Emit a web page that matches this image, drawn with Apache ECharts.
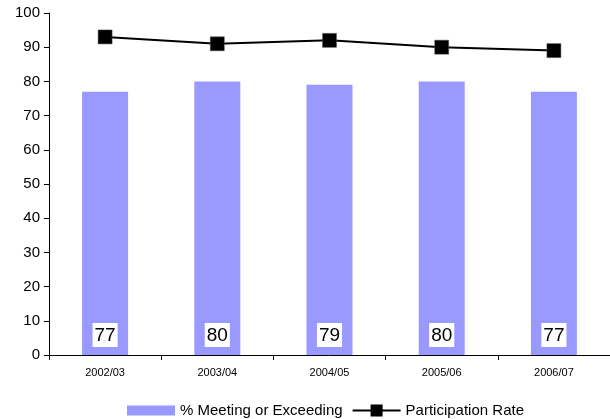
<!DOCTYPE html>
<html><head><meta charset="utf-8">
<script src="https://cdn.jsdelivr.net/npm/echarts@6/dist/echarts.min.js"></script>
<style>html,body{margin:0;padding:0;background:#fff}#c{width:610px;height:419px}</style>
</head><body><div id="c"></div>
<script>
const categories = ["2002/03","2003/04","2004/05","2005/06","2006/07"];
const meetingValues = [77, 80, 79, 80, 77];
const participationValues = [93, 91, 92, 90, 89];
const yTicks = [0,10,20,30,40,50,60,70,80,90,100];

const font = "Arial, 'Liberation Sans', sans-serif";
const chart = echarts.init(document.getElementById('c'), null, {renderer:'canvas'});
chart.setOption({
  animation:false,
  textStyle:{fontFamily:font},
  grid:{left:49, top:13, width:566, height:342, containLabel:false},
  legend:{
    top:398, left:122, itemWidth:48, itemHeight:12, itemGap:10,
    textStyle:{fontFamily:font, fontSize:15, color:'#000'},
    data:[
      {name:'% Meeting or Exceeding', icon:'path://M0,1 H48 V11 H0 Z'},
      {name:'Participation Rate', icon:'path://M0,5 H18 V0 H30 V5 H48 V7 H30 V12 H18 V7 H0 Z', itemStyle:{color:'#000', borderWidth:0}}
    ]
  },
  xAxis:{
    type:'category', data:categories, boundaryGap:true,
    axisLine:{lineStyle:{color:'#000', width:1}},
    axisTick:{show:true, length:5, lineStyle:{color:'#000'}},
    axisLabel:{fontFamily:font, fontSize:11, color:'#000', margin:12}
  },
  yAxis:{
    type:'value', min:0, max:100, interval:10,
    axisLine:{show:true, lineStyle:{color:'#000', width:1}},
    axisTick:{show:true, length:5, lineStyle:{color:'#000'}},
    splitLine:{show:false},
    axisLabel:{fontFamily:font, fontSize:15, color:'#000', margin:9,
      formatter:v=>yTicks.includes(v)?String(v):''}
  },
  series:[
    {
      name:'% Meeting or Exceeding', type:'bar', data:meetingValues, barWidth:46,
      itemStyle:{color:'#9999ff'},
      label:{show:true, position:'insideBottom', distance:8, fontFamily:font, fontSize:19,
        color:'#000', backgroundColor:'#fff', padding:[3,2,2,2]}
    },
    {
      name:'Participation Rate', type:'line', data:participationValues,
      symbol:'rect', symbolSize:14,
      lineStyle:{color:'#000', width:2},
      itemStyle:{color:'#000', borderColor:'#555', borderWidth:0.5}
    }
  ]
});
</script></body></html>
